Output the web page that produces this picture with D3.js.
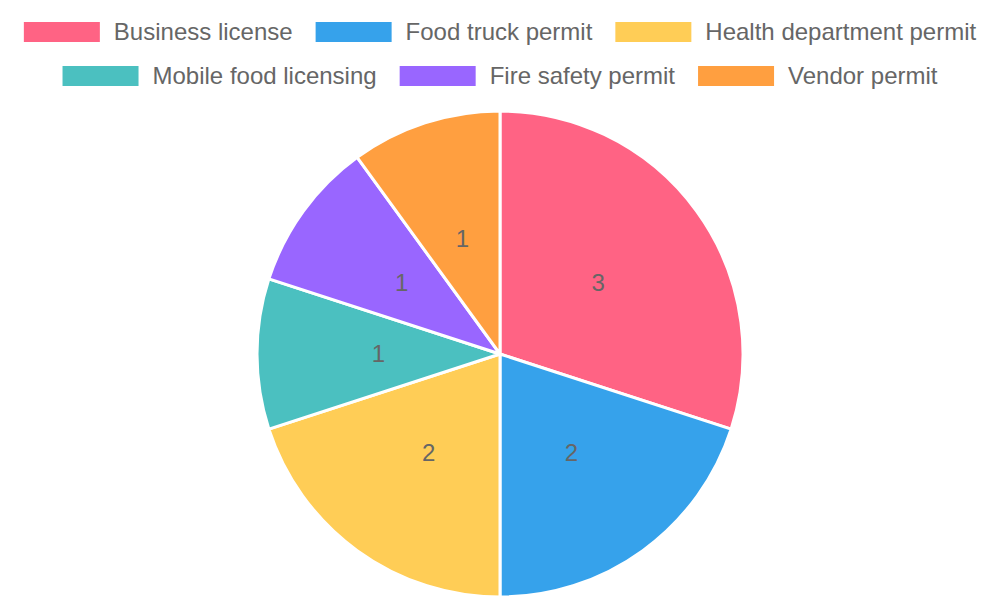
<!DOCTYPE html>
<html>
<head>
<meta charset="utf-8">
<script src="https://cdn.jsdelivr.net/npm/d3@7"></script>
<style>
  html, body { margin: 0; padding: 0; background: #fff; }
  svg { display: block; font-family: "Liberation Sans", Arial, Helvetica, sans-serif; }
</style>
</head>
<body>
<svg id="chart" width="1000" height="600"></svg>
<script>
// 数据
var categories = ["Business license", "Food truck permit", "Health department permit",
                  "Mobile food licensing", "Fire safety permit", "Vendor permit"];
var values = [3, 2, 2, 1, 1, 1];
var colors = ["#ff6384", "#36a2eb", "#ffcd56", "#4bc0c0", "#9966ff", "#ff9f40"];
var legendRows = [[0, 1, 2], [3, 4, 5]];

(function () {
    "use strict";
    var W = 1000, H = 600;
    var svg = d3.select("#chart");
    var cx = 500, cy = 354, r = 243;

    // 饼图
    var pie = d3.pie().sort(null).value(function (d) { return d; });
    var arc = d3.arc().innerRadius(0).outerRadius(r);
    var labelArc = d3.arc().innerRadius(r / 2).outerRadius(r / 2);
    var arcs = pie(values);

    var g = svg.append("g").attr("transform", "translate(" + cx + "," + cy + ")");
    g.selectAll(".slice").data(arcs).enter().append("path")
        .attr("class", "slice")
        .attr("d", arc)
        .attr("fill", function (d, i) { return colors[i]; })
        .attr("stroke", "#fff")
        .attr("stroke-width", 3)
        .attr("stroke-linejoin", "round");

    g.selectAll(".lbl").data(arcs).enter().append("text")
        .attr("class", "lbl")
        .attr("transform", function (d) { return "translate(" + labelArc.centroid(d) + ")"; })
        .attr("text-anchor", "middle")
        .attr("dy", "0.35em")
        .attr("fill", "#666")
        .style("font-size", "24px")
        .text(function (d) { return d.data; });

    // 图例
    var boxW = 76, boxH = 20, boxGap = 14, itemGap = 23, fontSize = 24;
    var rowY = [32, 76];
    legendRows.forEach(function (row, ri) {
        var lg = svg.append("g");
        var items = row.map(function (idx) {
            var t = lg.append("text")
                .attr("fill", "#666")
                .style("font-size", fontSize + "px")
                .attr("dy", "0.35em")
                .text(categories[idx]);
            return { idx: idx, text: t, w: t.node().getComputedTextLength() };
        });
        var total = d3.sum(items, function (it) { return boxW + boxGap + it.w; }) + itemGap * (items.length - 1);
        var x = (W - total) / 2;
        items.forEach(function (it) {
            lg.append("rect")
                .attr("x", x).attr("y", rowY[ri] - boxH / 2)
                .attr("width", boxW).attr("height", boxH)
                .attr("fill", colors[it.idx]);
            it.text.attr("x", x + boxW + boxGap).attr("y", rowY[ri]);
            x += boxW + boxGap + it.w + itemGap;
        });
    });
})();
</script>
</body>
</html>
